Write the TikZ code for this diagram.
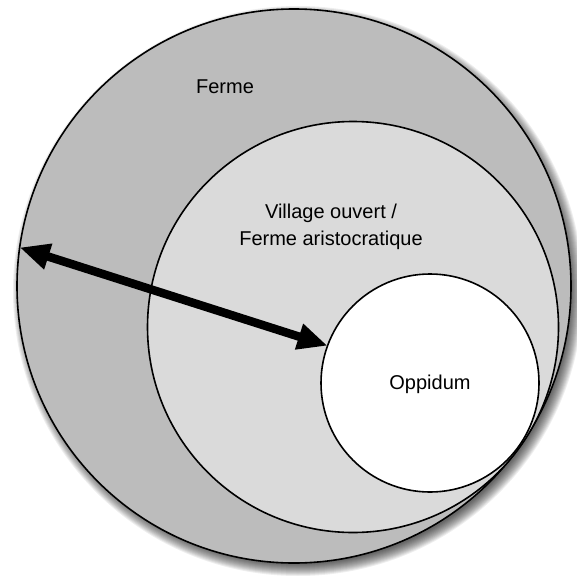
\documentclass[tikz,border=0pt]{standalone}
\usepackage{fontspec}
\setmainfont{Liberation Sans}
\usetikzlibrary{arrows.meta}
\definecolor{outergray}{RGB}{188,188,188}
\definecolor{midgray}{RGB}{218,218,218}
\begin{document}
\begin{tikzpicture}[x=1pt,y=-1pt,
  ring/.style={circle, draw=black, line width=1.6pt, inner sep=0pt, outer sep=0pt},
  lbl/.style={font=\fontsize{20}{27}\selectfont, align=center, inner sep=0pt},
  bigarrow/.style={line width=8.5pt, {Triangle[length=30pt,width=25pt]}-{Triangle[length=30pt,width=25pt]}}]
\useasboundingbox (0,0) rectangle (577,575);
% blurred drop shadow
\foreach \i in {0,...,12}{
  \fill[black, opacity=0.065] (298,291) circle[radius={(285-\i)*1pt}];
}
\node[ring, fill=outergray, minimum size=554pt] (ferme) at (294,286) {};
\node[ring, fill=midgray, minimum size=411pt] (village) at (353,327) {};
\node[ring, fill=white, minimum size=218pt] (oppidum) at (430,383) {};
\node[lbl, anchor=base] (tferme) at (225,93) {Ferme};
\node[lbl, anchor=base] (tvillage) at (331,218) {Village ouvert /};
\node[lbl, anchor=base] (tferme2) at (331,245) {Ferme aristocratique};
\node[lbl, anchor=base] (topp) at (430,389) {Oppidum};
\draw[bigarrow] (ferme.172) -- (oppidum.160.8);
\end{tikzpicture}
\end{document}
